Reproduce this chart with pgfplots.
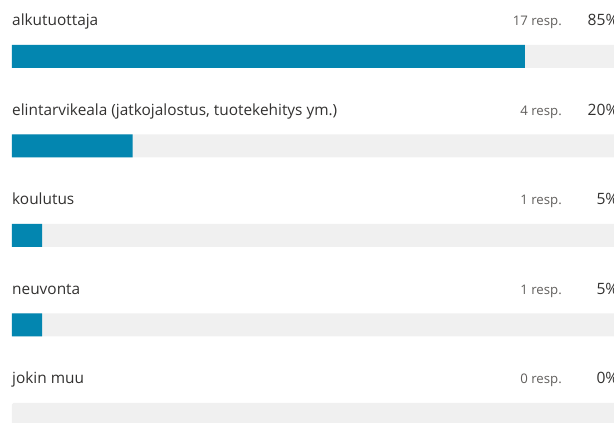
\documentclass[border=0pt]{standalone}
\usepackage{pgfplots}
\pgfplotsset{compat=1.18}
\usepackage{fontspec}
\setmainfont{Open Sans}
\definecolor{barblue}{HTML}{0386B0}
\definecolor{track}{HTML}{F0F0F0}
\definecolor{labeltext}{HTML}{323130}
\definecolor{resptext}{HTML}{605E5C}

% one row: position, answer, number of answers, share
\newcommand{\lab}[4]{%
  \node[anchor=base west, inner sep=0pt, text=labeltext, font=\fontsize{15.4}{17}\selectfont]
    at (axis cs:0,#1-0.341) {#2};
  \node[anchor=base east, inner sep=0pt, text=resptext, font=\fontsize{13.2}{15}\selectfont]
    at (axis cs:91.13,#1-0.341) {#3 resp.};
  \node[anchor=base east, inner sep=0pt, text=labeltext, font=\fontsize{15.6}{17}\selectfont]
    at (axis cs:100.5,#1-0.341) {#4\%};
}

\begin{document}
\begin{tikzpicture}
\begin{axis}[
    scale only axis,
    width=614pt, height=422pt,
    xmin=-1.988, xmax=99.75,
    ymin=-0.631, ymax=4.084,
    y dir=reverse,
    axis lines=none,
    xbar, bar width=23pt, bar shift=0pt,
]
% grey track (100 %)
\addplot[fill=track, draw=none, rounded corners=1.5pt]
  coordinates {(100,0) (100,1) (100,2) (100,3) (100,4)};
% share of answers (%); a 0 % bar draws nothing
\addplot[fill=barblue, draw=none, restrict x to domain=0.01:100]
  coordinates {(85,0) (20,1) (5,2) (5,3) (0,4)};

\lab{0}{alkutuottaja}{17}{85}
\lab{1}{elintarvikeala (jatkojalostus, tuotekehitys ym.)}{4}{20}
\lab{2}{koulutus}{1}{5}
\lab{3}{neuvonta}{1}{5}
\lab{4}{jokin muu}{0}{0}
\end{axis}
\pgfresetboundingbox
\path[use as bounding box] (current axis.south west) rectangle (current axis.north east);
\end{tikzpicture}
\end{document}
